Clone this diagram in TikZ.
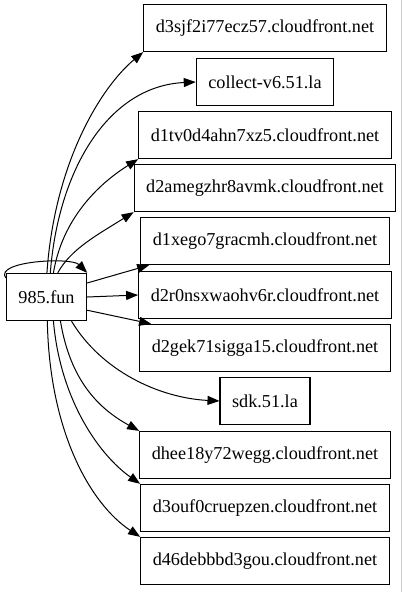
\documentclass[tikz,border=0pt]{standalone}
\usepackage{fontspec}
\setmainfont{Liberation Serif}
\usetikzlibrary{arrows.meta,positioning}

\tikzset{
  site/.style={draw,rectangle,line width=1.3pt,minimum height=47pt,inner xsep=12pt,
    font=\fontsize{18.2}{20}\selectfont},
  link/.style={line width=1pt,-{Triangle[length=12pt,width=9pt]}}
}

\begin{document}
\begin{tikzpicture}[x=1pt,y=-1pt]
\useasboundingbox (0,0) rectangle (403,592);
\draw[gray!40,line width=1pt] (401.5,0) -- (401.5,592);

\node[site,minimum width=79pt] (fun) at (46.5,297) {985.fun};
\node[site] (d3sjf) at (265,28) {d3sjf2i77ecz57.cloudfront.net};
\node[site] (collect) at (265,82) {collect-v6.51.la};
\node[site] (d1tv) at (265,135) {d1tv0d4ahn7xz5.cloudfront.net};
\node[site] (d2amegz) at (265,188) {d2amegzhr8avmk.cloudfront.net};
\node[site] (d1xego) at (265,241) {d1xego7gracmh.cloudfront.net};
\node[site] (d2r0n) at (265,295) {d2r0nsxwaohv6r.cloudfront.net};
\node[site] (d2gek) at (265,348) {d2gek71sigga15.cloudfront.net};
\node[site] (sdk) at (265,401) {sdk.51.la};
\node[site] (dhee) at (265,455) {dhee18y72wegg.cloudfront.net};
\node[site] (d3ouf) at (265,508) {d3ouf0cruepzen.cloudfront.net};
\node[site] (d46) at (265,561) {d46debbbd3gou.cloudfront.net};

% self loop
\draw[link] (fun.155) .. controls +(-12,-17) and +(-16,-16) .. (fun.north east);

\draw[link] (fun.89) .. controls +(8,-114) and +(-40,33) .. (d3sjf.south west);
\draw[link] (fun.81) .. controls +(8,-104) and +(-87,4) .. (collect.west);
\draw[link] (fun.74) .. controls +(9,-54) and +(-40,25) .. (d1tv.south west);
\draw[link] (fun.65) .. controls +(13,-24) and +(-35,22) .. (d2amegz.south west);
\draw[link] (fun.19) -- ([xshift=9pt]d1xego.south west);
\draw[link] (fun.east) -- (d2r0n.west);
\draw[link] (fun.-18) -- ([xshift=12pt]d2gek.north west);
\draw[link] (fun.-44) .. controls +(30,50) and +(-60,-3) .. (sdk.west);
\draw[link] (fun.-60) .. controls +(10,60) and +(-40,-22) .. (dhee.north west);
\draw[link] (fun.-74) .. controls +(7,80) and +(-40,-28) .. (d3ouf.north west);
\draw[link] (fun.-88) .. controls +(2,110) and +(-50,-33) .. (d46.north west);
\end{tikzpicture}
\end{document}
